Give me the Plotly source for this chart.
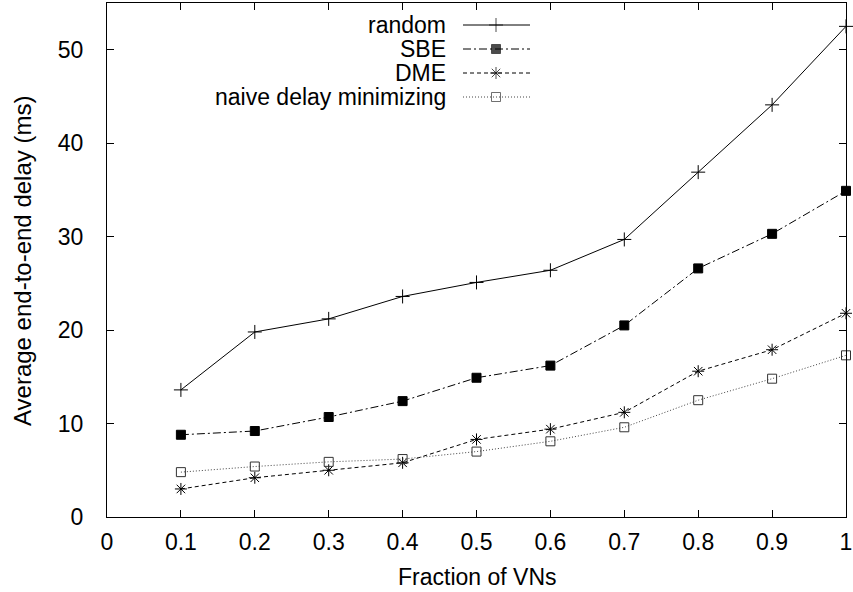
import plotly.graph_objects as go

x_vals = [0.1, 0.2, 0.3, 0.4, 0.5, 0.6, 0.7, 0.8, 0.9, 1.0]
random_vals = [13.6, 19.8, 21.2, 23.6, 25.1, 26.4, 29.7, 36.9, 44.1, 52.5]
sbe_vals = [8.8, 9.2, 10.7, 12.4, 14.9, 16.2, 20.5, 26.6, 30.3, 34.9]
dme_vals = [3.0, 4.2, 5.0, 5.8, 8.3, 9.4, 11.2, 15.6, 17.9, 21.8]
naive_vals = [4.8, 5.4, 5.9, 6.2, 7.0, 8.1, 9.6, 12.5, 14.8, 17.3]
names = ["random", "SBE", "DME", "naive delay minimizing"]
x_ticks = [0, 0.1, 0.2, 0.3, 0.4, 0.5, 0.6, 0.7, 0.8, 0.9, 1]
x_tick_labels = ["0", "0.1", "0.2", "0.3", "0.4", "0.5", "0.6", "0.7", "0.8", "0.9", "1"]
y_ticks = [0, 10, 20, 30, 40, 50]

FONT = "Liberation Sans, Arial, Helvetica, sans-serif"

styles = [
    dict(dash="solid", symbol="cross-thin-open", size=10, color="#000000", lc="#000000"),
    dict(dash="8px,3px,2px,3px", symbol="square", size=9, color="#000000", lc="#000000"),
    dict(dash="4px,3px", symbol="asterisk-open", size=10, color="#000000", lc="#000000"),
    dict(dash="1px,2px", symbol="square-open", size=9, color="#333333", lc="#444444"),
]
series = [random_vals, sbe_vals, dme_vals, naive_vals]

fig = go.Figure()
for name, vals, st in zip(names, series, styles):
    fig.add_trace(go.Scatter(
        x=x_vals, y=vals, mode="lines+markers", name=name, showlegend=False,
        line=dict(color=st["lc"], width=1, dash=st["dash"]),
        marker=dict(symbol=st["symbol"], size=st["size"], color=st["color"],
                    line=dict(color=st["color"], width=1)),
        cliponaxis=False,
    ))

# custom legend (gnuplot style: text on the left, sample on the right)
W, H = 853, 592
L, R, T, B = 107, 7, 3, 75
pw, ph = W - L - R, H - T - B
legend_y_px = [25, 49, 73, 97]
x0_px, x1_px, xm_px, xt_px = 463, 530, 496, 448
for name, st, ypx in zip(names, styles, legend_y_px):
    yy = 1 - (ypx - T) / ph
    fig.add_trace(go.Scatter(
        x=[(x0_px - L) / pw, (xm_px - L) / pw, (x1_px - L) / pw], y=[yy, yy, yy],
        xaxis="x2", yaxis="y2", mode="lines+markers", showlegend=False, hoverinfo="skip",
        line=dict(color=st["lc"], width=1, dash=st["dash"]),
        marker=dict(symbol=st["symbol"], size=[0, st["size"], 0], color=st["color"],
                    line=dict(color=st["color"], width=1)),
    ))
    fig.add_annotation(x=(xt_px - L) / pw, y=yy, xref="x2", yref="y2", text=name,
                       showarrow=False, xanchor="right", yanchor="middle",
                       font=dict(family=FONT, size=23, color="black"))

# axis titles
fig.add_annotation(x=(477 - L) / pw, y=-(577 - (H - B)) / ph, xref="paper", yref="paper",
                   text="Fraction of VNs", showarrow=False, xanchor="center", yanchor="middle",
                   font=dict(family=FONT, size=23, color="black"))
fig.add_annotation(x=(22 - L) / pw, y=1 - (261 - T) / ph, xref="paper", yref="paper",
                   text="Average end-to-end delay (ms)", showarrow=False, textangle=-90,
                   xanchor="center", yanchor="middle",
                   font=dict(family=FONT, size=24, color="black"))

axis_common = dict(showgrid=False, zeroline=False, showline=True, linecolor="black", linewidth=1,
                   mirror="allticks", ticks="inside", ticklen=7, tickcolor="black",
                   automargin=False,
                   tickfont=dict(family=FONT, size=23, color="black"))

fig.update_layout(
    width=W, height=H,
    margin=dict(l=L, r=R, t=T, b=B, autoexpand=False),
    plot_bgcolor="white", paper_bgcolor="white",
    xaxis=dict(range=[0, 1], tickvals=x_ticks, ticktext=x_tick_labels,
               ticklabelstandoff=4, **axis_common),
    yaxis=dict(range=[0, 55], tickvals=y_ticks, ticklabelstandoff=18, **axis_common),
    xaxis2=dict(range=[0, 1], overlaying="x", visible=False, fixedrange=True),
    yaxis2=dict(range=[0, 1], overlaying="y", visible=False, fixedrange=True),
)

fig.write_html("out.html", config={"displayModeBar": False},
               post_script="document.body.style.margin='0';document.body.style.overflow='hidden';")
